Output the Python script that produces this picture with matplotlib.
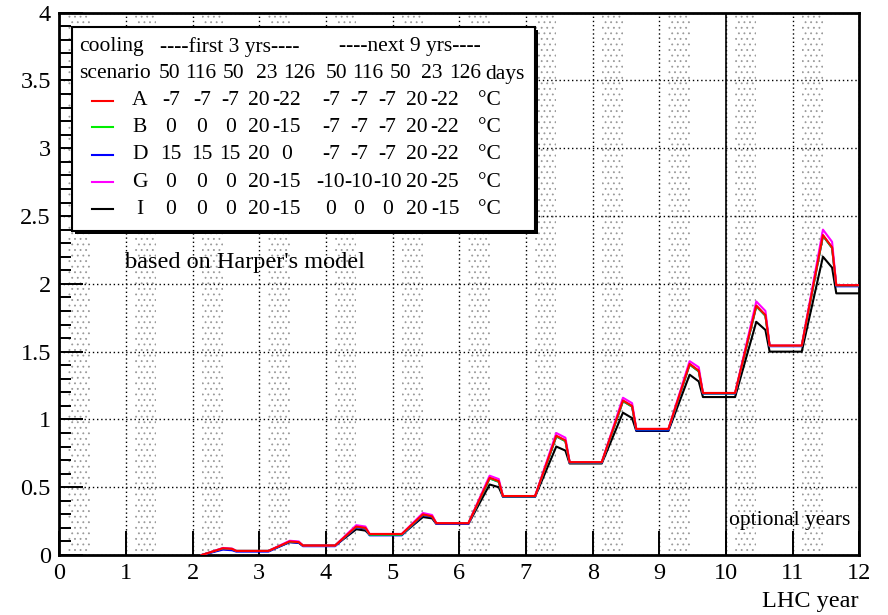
import matplotlib
matplotlib.use("Agg")
import numpy as np
import matplotlib.pyplot as plt
from matplotlib.ticker import MultipleLocator, FormatStrFormatter
from matplotlib.patches import Rectangle

plt.rcParams["font.family"] = ["Liberation Serif", "DejaVu Serif"]
plt.rcParams["hatch.linewidth"] = 0.6

# LHC years with beam (dose builds up in years 2..11)
years = [2, 3, 4, 5, 6, 7, 8, 9, 10, 11]

# length of each period of the year (50, 116, 50, 23, 126 days)
period_days = [50, 116, 50, 23, 126]

# value at end of running, before annealing, after annealing
peak_A = [0.05, 0.10, 0.21, 0.30, 0.57, 0.88, 1.14, 1.41, 1.84, 2.36]
knee_A = [0.045, 0.095, 0.20, 0.285, 0.545, 0.845, 1.10, 1.36, 1.77, 2.27]
plat_A = [0.03, 0.07, 0.155, 0.235, 0.435, 0.685, 0.93, 1.195, 1.545, 1.99]

peak_B = [0.05, 0.10, 0.21, 0.30, 0.565, 0.875, 1.135, 1.405, 1.835, 2.355]
knee_B = [0.045, 0.095, 0.20, 0.285, 0.54, 0.84, 1.095, 1.355, 1.765, 2.265]
plat_B = [0.03, 0.07, 0.15, 0.235, 0.433, 0.683, 0.928, 1.193, 1.543, 1.988]

peak_D = [0.04, 0.095, 0.205, 0.295, 0.565, 0.875, 1.135, 1.405, 1.835, 2.355]
knee_D = [0.035, 0.09, 0.195, 0.28, 0.54, 0.84, 1.095, 1.355, 1.765, 2.265]
plat_D = [0.025, 0.065, 0.145, 0.23, 0.43, 0.68, 0.92, 1.19, 1.54, 1.982]

peak_G = [0.052, 0.105, 0.22, 0.31, 0.585, 0.90, 1.16, 1.43, 1.87, 2.40]
knee_G = [0.047, 0.10, 0.21, 0.295, 0.56, 0.865, 1.12, 1.385, 1.80, 2.31]
plat_G = [0.03, 0.07, 0.155, 0.235, 0.435, 0.685, 0.93, 1.195, 1.545, 1.99]

peak_I = [0.045, 0.095, 0.19, 0.28, 0.52, 0.80, 1.05, 1.33, 1.72, 2.20]
knee_I = [0.04, 0.09, 0.18, 0.27, 0.50, 0.77, 1.01, 1.28, 1.66, 2.12]
plat_I = [0.03, 0.07, 0.15, 0.23, 0.43, 0.675, 0.915, 1.165, 1.50, 1.93]

# legend table
hdr_first = "----first 3 yrs----"
hdr_next = "----next 9 yrs----"
days_row = ["50", "116", "50", "23", "126", "50", "116", "50", "23", "126"]
scen_names = ["A", "B", "D", "G", "I"]
scen_colors = ["red", "#00ee00", "blue", "magenta", "black"]
scen_temps = [
    ["-7", "-7", "-7", "20", "-22", "-7", "-7", "-7", "20", "-22"],
    ["0", "0", "0", "20", "-15", "-7", "-7", "-7", "20", "-22"],
    ["15", "15", "15", "20", "0", "-7", "-7", "-7", "20", "-22"],
    ["0", "0", "0", "20", "-15", "-10", "-10", "-10", "20", "-25"],
    ["0", "0", "0", "20", "-15", "0", "0", "0", "20", "-15"],
]

W, H = 888, 615


def px(x, y):
    return x / W, 1 - y / H


def make_curve(peaks, knees, plats):
    f = np.cumsum(period_days) / 365.0
    xs, ys = [years[0] + f[0]], [0.0]
    prev = 0.0
    for yr, p, k, q in zip(years, peaks, knees, plats):
        xs += [yr + f[0], yr + f[1], yr + f[2], yr + f[3]]
        ys += [prev, p, k, q]
        prev = q
    xs.append(12)
    ys.append(prev)
    return xs, ys


fig = plt.figure(figsize=(W / 100, H / 100), dpi=100)
ax = fig.add_axes([59.3 / W, 1 - 555 / H, 800 / W, 542.3 / H])

# hatched running periods
f = np.cumsum(period_days) / 365.0
for yr in range(12):
    ax.axvspan(yr + f[0], yr + f[1], facecolor="none", edgecolor="#9a9a9a",
               hatch="...", linewidth=0, zorder=0)

ax.grid(True, which="major", color="black", linestyle=(0, (1, 2)), linewidth=1.0, zorder=1)
ax.axvline(10, color="black", linewidth=1.2, zorder=2)

curves = [(peak_I, knee_I, plat_I, "black"),
          (peak_D, knee_D, plat_D, "blue"),
          (peak_B, knee_B, plat_B, "#00ee00"),
          (peak_G, knee_G, plat_G, "magenta"),
          (peak_A, knee_A, plat_A, "red")]
for pk, kn, pl, c in curves:
    xs, ys = make_curve(pk, kn, pl)
    ax.plot(xs, ys, color=c, linewidth=1.5, zorder=3)

ax.set_xlim(0, 12)
ax.set_ylim(0, 4)
ax.xaxis.set_major_locator(MultipleLocator(1))
ax.yaxis.set_major_locator(MultipleLocator(0.5))
ax.yaxis.set_minor_locator(MultipleLocator(0.1))
ax.yaxis.set_major_formatter(FormatStrFormatter("%g"))
ax.tick_params(which="both", direction="in", top=False, right=False,
               labelsize=17.5, width=1.4, pad=6)
ax.tick_params(which="major", length=17)
ax.tick_params(which="minor", length=8.5)
for s in ax.spines.values():
    s.set_linewidth(2)

ax.text(0.99, 2.16, "based on Harper's model", fontsize=17.5, va="center", zorder=4)
ax.text(10.05, 0.255, "optional years", fontsize=15.5, va="center", zorder=4)
fig.text(*px(858, 601), "LHC year", fontsize=17.5, ha="right", va="center")

# legend box with shadow
x0, y0, x1, y1 = 72, 26.7, 535, 230.7
fig.patches.append(Rectangle(px(x0 + 3, y1 + 3), (x1 - x0) / W, (y1 - y0) / H,
                             transform=fig.transFigure, facecolor="black",
                             edgecolor="none", zorder=5))
fig.patches.append(Rectangle(px(x0, y1), (x1 - x0) / W, (y1 - y0) / H,
                             transform=fig.transFigure, facecolor="white",
                             edgecolor="black", linewidth=1.5, zorder=6))

fs = 15.5
fig.text(*px(79, 47), "cooling", fontsize=fs, va="center", zorder=7)
fig.text(*px(229.5, 47), hdr_first, fontsize=fs, ha="center", va="center", zorder=7)
fig.text(*px(410, 47), hdr_next, fontsize=fs, ha="center", va="center", zorder=7)
fig.text(*px(79, 74), "scenario", fontsize=fs, va="center", zorder=7)

day_cols = [170, 201, 233.7, 266.3, 299.3, 336.7, 367.3, 400, 432, 465]
for xc, s in zip(day_cols, days_row):
    fig.text(*px(xc, 74), s, fontsize=fs, ha="center", va="center", zorder=7)
fig.text(*px(485, 74), "days", fontsize=fs, va="center", zorder=7)

temp_cols = [170.7, 202, 230.3, 258.7, 286.7, 330.7, 359, 387.3, 416.7, 445]
row_y = [100.7, 127.3, 155, 182.3, 209.3]
for name, c, temps, yy in zip(scen_names, scen_colors, scen_temps, row_y):
    fig.lines.append(plt.Line2D([91.7 / W, 113.3 / W], [1 - yy / H, 1 - yy / H],
                                transform=fig.transFigure, color=c, linewidth=1.5, zorder=7))
    fig.text(*px(140, yy), name, fontsize=fs, ha="center", va="center", zorder=7)
    for xc, s in zip(temp_cols, temps):
        fig.text(*px(xc, yy), s, fontsize=fs, ha="center", va="center", zorder=7)
    fig.text(*px(489, yy), "°C", fontsize=fs, ha="center", va="center", zorder=7)

fig.savefig("out.png", dpi=100)
